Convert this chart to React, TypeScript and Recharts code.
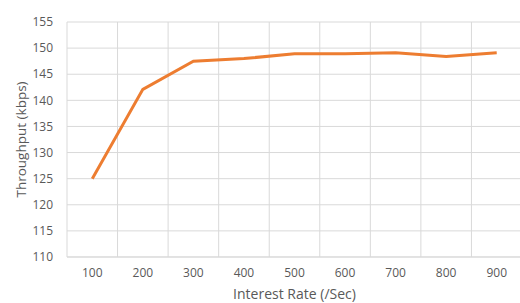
import React from "react";
import { LineChart, Line, XAxis, YAxis, CartesianGrid, ReferenceLine } from "recharts";

const rates = [100, 200, 300, 400, 500, 600, 700, 800, 900];
const throughput = [125, 142.1, 147.5, 148, 148.9, 148.9, 149.1, 148.4, 149.1];
const yTicks = [110, 115, 120, 125, 130, 135, 140, 145, 150, 155];
// Excel draws the vertical grid between categories
const bandEdges = [50, 150, 250, 350, 450, 550, 650, 750, 850, 950];

const data = rates.map((r, i) => ({ rate: r, value: throughput[i] }));

const textColor = "#595959";
const gridColor = "#d9d9d9";
const font = "'Open Sans', sans-serif";

export default function App() {
  return (
    <div style={{ position: "absolute", left: 0, top: 0, width: 520, height: 303, overflow: "hidden", fontFamily: font }}>
      <LineChart width={530} height={303} data={data} margin={{ top: 22, right: 8, bottom: 0, left: 0 }}>
        <CartesianGrid vertical={false} stroke={gridColor} strokeWidth={1} />
        {bandEdges.map((x) => (
          <ReferenceLine key={x} x={x} stroke={gridColor} strokeWidth={1} ifOverflow="visible" />
        ))}
        <XAxis
          dataKey="rate"
          type="number"
          domain={[50, 950]}
          ticks={rates}
          height={46}
          tickLine={false}
          axisLine={{ stroke: gridColor }}
          tickMargin={5}
          tick={{ fontSize: 12, fill: textColor, fontFamily: font }}
          label={{ value: "Interest Rate (/Sec)", position: "insideBottom", offset: 4, fill: textColor, fontSize: 14, fontFamily: font }}
        />
        <YAxis
          domain={[110, 155]}
          ticks={yTicks}
          width={67}
          tickLine={false}
          axisLine={false}
          tickMargin={8}
          tick={{ fontSize: 12, fill: textColor, fontFamily: font }}
          label={{
            value: "Throughput (kbps)",
            angle: -90,
            position: "insideLeft",
            offset: 21,
            fill: textColor,
            fontSize: 13.5,
            fontFamily: font,
            style: { textAnchor: "middle" },
          }}
        />
        <Line
          type="linear"
          dataKey="value"
          stroke="#ED7D31"
          strokeWidth={3}
          dot={false}
          isAnimationActive={false}
        />
      </LineChart>
    </div>
  );
}
